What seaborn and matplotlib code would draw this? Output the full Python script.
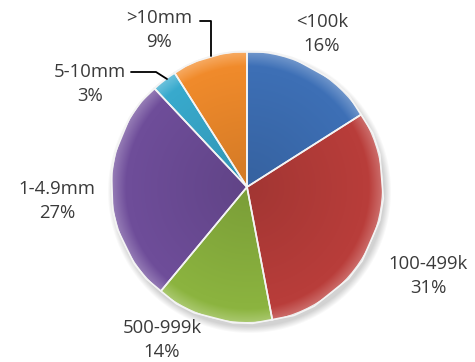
import numpy as np
import matplotlib
matplotlib.use("Agg")
import matplotlib.pyplot as plt
import seaborn as sns
from matplotlib.colors import to_rgb

# Data (clockwise from 12 o'clock)
categories = ["<100k", "100-499k", "500-999k", "1-4.9mm", "5-10mm", ">10mm"]
shares = [16, 31, 14, 27, 3, 9]

colors = ["#3d6fb5", "#b83d3a", "#8bb33f", "#6e4d99", "#38a9cc", "#ef8a2b"]

# label text anchors, in pixels (x from left, y from top)
label_pos = {
    "<100k": (322, 34),
    "100-499k": (428, 276),
    "500-999k": (162, 340),
    "1-4.9mm": (57, 201),
    "5-10mm": (90, 84),
    ">10mm": (159, 30),
}

W, H = 475, 362
cx, cy, r = 247, 362 - 187, 135

sns.set_theme(style="white")
plt.rcParams['font.family'] = ['Open Sans', 'DejaVu Sans']

fig = plt.figure(figsize=(W / 100, H / 100), dpi=100)
ax = fig.add_axes([0, 0, 1, 1])

# soft shadow under the pie
yy, xx = np.mgrid[0:H, 0:W]
sd = np.hypot(xx - (cx + 2), (H - yy) - (cy - 4)) - r
shadow = np.zeros((H, W, 4))
shadow[..., 3] = 0.18 * np.clip(1 - sd / 7, 0, 1)
ax.imshow(shadow, extent=(0, W, 0, H), origin="upper", zorder=0)

wedges, _ = ax.pie(shares, colors=colors, startangle=90, counterclock=False,
                   center=(cx, cy), radius=r,
                   wedgeprops=dict(edgecolor="#f2f2f2", linewidth=1.2))

# bevel-like shading on each wedge
dist = np.hypot(xx - cx, (H - yy) - cy) / r
for w, c in zip(wedges, colors):
    base = np.array(to_rgb(c))
    shade = 0.88 + 0.14 * np.clip(dist, 0, 1)
    img = base[None, None, :] * shade[..., None]
    rim = np.clip((dist - 0.9) / 0.1, 0, 1)
    img = img * (1 - 0.25 * rim[..., None]) + 0.25 * rim[..., None]
    img = np.clip(img, 0, 1)
    im = ax.imshow(img, extent=(0, W, 0, H), origin="upper", zorder=2)
    im.set_clip_path(w)
    w.set_zorder(1)
    edge = plt.Polygon(w.get_path().vertices, closed=True, fill=False,
                       transform=w.get_transform(), edgecolor="#f4f4f4",
                       lw=1.2, zorder=3)
    ax.add_patch(edge)

for cat, s in zip(categories, shares):
    x, y = label_pos[cat]
    ax.text(x, H - y, f"{cat}\n{s}%", ha="center", va="center",
            fontsize=13.3, color="#3a3a3a", linespacing=1.4, zorder=5)

# leader lines
ax.plot([200, 211, 211], [H - 21, H - 21, H - 56], color="black", lw=1.3, zorder=4)
ax.plot([131, 156, 167], [H - 72, H - 72, H - 79], color="black", lw=1.3, zorder=4)

ax.set_xlim(0, W)
ax.set_ylim(0, H)
ax.set_aspect("auto")
ax.axis("off")

fig.savefig("out.png", dpi=100)
